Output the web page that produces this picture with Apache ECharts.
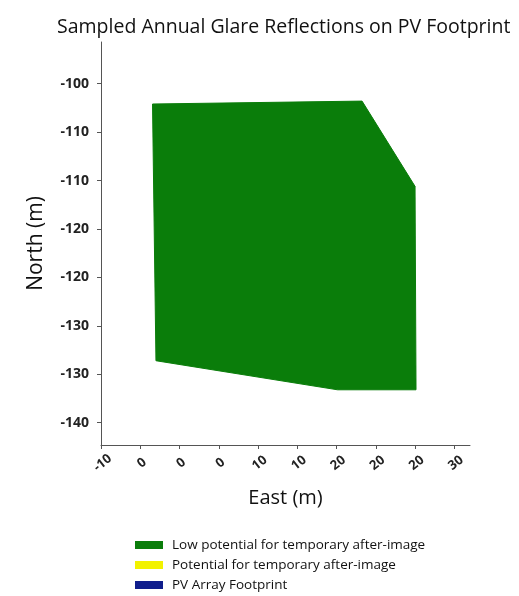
<!DOCTYPE html>
<html>
<head>
<meta charset="utf-8">
<title>Sampled Annual Glare Reflections on PV Footprint</title>
<script src="https://cdn.jsdelivr.net/npm/echarts@6/dist/echarts.min.js"></script>
<style>
  html, body { margin: 0; padding: 0; background: #ffffff; }
  #chart { width: 519px; height: 596px; }
</style>
</head>
<body>
<div id="chart"></div>
<script>
// Footprint outline (East, North) in metres
const footprintEast  = [-2.75, 18.6, 24.0, 24.1, 16.1, -2.4];
const footprintNorth = [-102.1, -101.8, -110.6, -131.6, -131.6, -128.6];

// Tick positions for both axes
const eastTicks  = [-8, -4, 0, 4, 8, 12, 16, 20, 24, 28];
const northTicks = [-100, -105, -110, -115, -120, -125, -130, -135];

// Legend entries
const legendNames  = ['Low potential for temporary after-image', 'Potential for temporary after-image', 'PV Array Footprint'];
const legendColors = ['#0a7d0a', '#f2f200', '#0f1d8c'];

const FONT = 'Open Sans';

// Tick labels are rounded to the nearest ten (halves away from zero)
function tenLabel(v) {
  const r = Math.sign(v) * Math.round(Math.abs(v) / 10) * 10;
  return r === 0 ? '0' : String(r);
}

const footprintData = footprintEast.map((e, i) => [e, footprintNorth[i]]);

const chart = echarts.init(document.getElementById('chart'), null, { renderer: 'canvas' });

const axisLineStyle = { color: '#555555', width: 1 };

const option = {
  backgroundColor: '#ffffff',
  animation: false,
  title: {
    text: 'Sampled Annual Glare Reflections on PV Footprint',
    left: 57,
    top: 17,
    padding: 0,
    textStyle: { fontFamily: FONT, fontSize: 19.5, fontWeight: 500, color: '#111111' }
  },
  grid: { left: 101, right: 49, top: 42, bottom: 151, containLabel: false },
  xAxis: {
    type: 'value',
    min: -8,
    max: 29.6,
    name: 'East (m)',
    nameLocation: 'middle',
    nameGap: 43,
    nameTextStyle: { fontFamily: FONT, fontSize: 20, color: '#111111' },
    axisLine: { show: true, onZero: false, lineStyle: axisLineStyle },
    axisTick: { show: true, length: 4, customValues: eastTicks, lineStyle: axisLineStyle },
    axisLabel: {
      customValues: eastTicks,
      rotate: 38,
      align: 'center',
      verticalAlign: 'top',
      margin: 11,
      padding: [0, 6, 0, 0],
      fontFamily: FONT, fontSize: 13, fontWeight: 'bold', color: '#222222',
      formatter: tenLabel
    },
    splitLine: { show: false }
  },
  yAxis: {
    type: 'value',
    min: -137.3,
    max: -95.7,
    name: 'North (m)',
    nameLocation: 'middle',
    nameGap: 54,
    nameRotate: 90,
    nameTextStyle: { fontFamily: FONT, fontSize: 21, color: '#111111' },
    axisLine: { show: true, onZero: false, lineStyle: axisLineStyle },
    axisTick: { show: true, length: 4, customValues: northTicks, lineStyle: axisLineStyle },
    axisLabel: {
      customValues: northTicks,
      margin: 12,
      fontFamily: FONT, fontSize: 14, fontWeight: 'bold', color: '#222222',
      formatter: tenLabel
    },
    splitLine: { show: false }
  },
  legend: {
    orient: 'vertical',
    left: 135,
    top: 538,
    padding: 0,
    icon: 'rect',
    itemWidth: 28,
    itemHeight: 8,
    itemGap: 6,
    selectedMode: false,
    textStyle: { fontFamily: FONT, fontSize: 13.5, fontWeight: 500, color: '#111111', lineHeight: 14, padding: [0, 0, 0, 4] },
    data: legendNames
  },
  series: [
    {
      name: legendNames[0],
      type: 'custom',
      color: legendColors[0],
      data: footprintData,
      renderItem: function (params, api) {
        if (params.dataIndex !== 0) return null;
        const pts = footprintData.map(d => api.coord(d));
        return {
          type: 'polygon',
          shape: { points: pts },
          style: { fill: legendColors[0], stroke: legendColors[0], lineWidth: 1 }
        };
      },
      silent: true
    },
    { name: legendNames[1], type: 'custom', color: legendColors[1], data: [], renderItem: () => null },
    { name: legendNames[2], type: 'custom', color: legendColors[2], data: [], renderItem: () => null }
  ]
};

chart.setOption(option);
</script>
</body>
</html>
